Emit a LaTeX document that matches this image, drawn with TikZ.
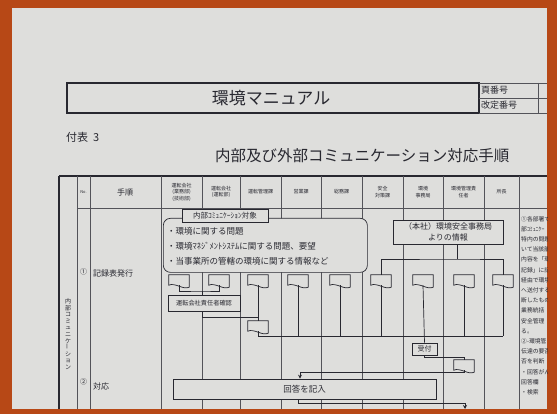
\documentclass[tikz,border=0pt]{standalone}
\usepackage{fontspec}
\setmainfont{Noto Sans CJK JP}
\usetikzlibrary{calc,arrows.meta}
\definecolor{framecol}{RGB}{183,72,22}
\definecolor{paper}{RGB}{222,222,220}
\definecolor{ink}{RGB}{40,40,48}
\newcommand{\fs}[1]{\fontsize{#1}{#1}\selectfont}
\begin{document}
\begin{tikzpicture}[x=1pt,y=-1pt,
  txt/.style={inner sep=0, text=ink},
  hdr/.style={inner sep=0, text=ink, align=center, font=\fontsize{5}{6.5}\selectfont},
  box/.style={draw=ink, fill=paper, line width=0.7pt, inner sep=0, text=ink},
  conn/.style={draw=ink, line width=0.7pt},
  gridline/.style={draw=ink!80, line width=0.5pt},
  thickline/.style={draw=ink, line width=1.1pt},
  docbox/.style={minimum width=20pt, minimum height=10pt, inner sep=0},
  arr/.style={-{Stealth[length=4pt,width=4pt]}}
]
\useasboundingbox (0,0) rectangle (557,414);
\fill[framecol] (0,0) rectangle (557,414);
\fill[paper] (12,8) rectangle (547,409);

% title block
\draw[thickline] (67,83) rectangle (479,113);
\draw[gridline] (479,83) -- (547,83) (479,98) -- (547,98) (479,113) -- (547,113) (538,83) -- (538,113);
\node[txt, font=\fs{17}] (title) at (271,98) {環境マニュアル};
\node[txt, anchor=west, font=\fs{9}] (pageno) at (481,90.5) {頁番号};
\node[txt, anchor=west, font=\fs{9}] (revno) at (481,105.5) {改定番号};

\node[txt, anchor=west, font=\fs{11}] (appx) at (66,137) {付表\ \ 3};
\node[txt, anchor=west, font=\fs{15.5}] (subtitle) at (215,156) {内部及び外部コミュニケーション対応手順};

% table grid
\draw[thickline] (59,176) -- (547,176);
\draw[thickline] (59,176) -- (59,409);
\draw[gridline] (77,208) -- (547,208);
\foreach \cx in {77,90,161,202,240,281,321,362,403,443,484,519}
  \draw[gridline] (\cx,176) -- (\cx,409);

% header labels
\node[hdr, font=\fs{4}] (hno) at (83.5,192) {No.};
\node[txt, font=\fs{8}] (hstep) at (125,192) {手順};
\node[hdr] (hc1) at (181.5,192) {運転会社\\(業務部)\\(技術部)};
\node[hdr] (hc2) at (221,192) {運転会社\\(運転部)};
\node[hdr] (hc3) at (260.5,192) {運転管理課};
\node[hdr] (hc4) at (301,192) {営業課};
\node[hdr] (hc5) at (341.5,192) {総務課};
\node[hdr] (hc6) at (382.5,192) {安全\\対策課};
\node[hdr] (hc7) at (423,192) {環境\\事務局};
\node[hdr] (hc8) at (463.5,192) {環境管理責\\任者};
\node[hdr] (hc9) at (501.5,192) {所長};

% row labels
\node[txt, font=\fs{7}] (n1) at (83.5,272) {①};
\node[txt, anchor=west, font=\fs{8}] (r1) at (93,273) {記録表発行};
\node[txt, font=\fs{7}] (n2) at (83.5,382) {②};
\node[txt, anchor=west, font=\fs{8}] (r2) at (93,386) {対応};
\node[txt, align=center, font=\fontsize{6}{6.6}\selectfont] (sec) at (68,334)
  {内\\部\\コ\\ミ\\ュ\\ニ\\ケ\\\rotatebox{90}{ー}\\シ\\ョ\\ン};

% notes column
\begin{scope}
\clip (520,209) rectangle (547,409);
\node[txt, anchor=north west, align=left, font=\fontsize{5.8}{10.2}\selectfont] (notes) at (521,216)
  {①各部署で\\部ｺﾐｭﾆｹｰ\\特内の問題\\いて当該部\\内容を「環\\記録」に記\\経由で環境\\へ送付する\\断したもの\\業務統括\\安全管理\\る。\\②-環境管\\伝達の要否\\否を判断\\・回答がん\\回答欄\\・検索};
\end{scope}

% subject box
\node[box, rounded corners=7pt, minimum width=204pt, minimum height=54pt, anchor=north west] (subj) at (163,218) {};
\node[txt, anchor=west, font=\fs{8.5}] (s1) at (167,231) {・環境に関する問題};
\node[txt, anchor=west, font=\fs{8.5}] (s2) at (167,246) {・環境ﾏﾈｼﾞﾒﾝﾄｼｽﾃﾑに関する問題、要望};
\node[txt, anchor=west, font=\fs{8.5}] (s3) at (167,261) {・当事業所の管轄の環境に関する情報など};
\node[box, minimum width=86pt, minimum height=13pt, font=\fs{7.5}] (subjlbl) at (225,215.5) {内部ｺﾐｭﾆｹｰｼｮﾝ対象};

% head office box
\node[box, minimum width=110pt, minimum height=24pt, align=center, font=\fontsize{8}{11}\selectfont] (hq) at (448,232) {（本社）環境安全事務局\\よりの情報};

% document shapes
\foreach \nm/\px/\py in {d1/179/280, d2/219/280, d3/258/280, d4/298/280, d5/340/280, d6/381/280, d7/423/280, d8/464/280, d9/503/280, d3b/258/326, d8b/464/365}
  \node[docbox] (\nm) at (\px,\py) {};
\foreach \nm in {d1,d2,d3,d4,d5,d6,d7,d8,d9,d3b,d8b}
  \draw[conn, fill=paper] (\nm.north west) -- (\nm.north east) -- ([yshift=-2pt]\nm.south east)
     .. controls +(-6pt,-3pt) and +(6pt,3pt) .. (\nm.south west) -- cycle;

% confirmation box
\node[box, minimum width=72pt, minimum height=16pt, font=\fs{6.2}] (conf) at (204,303) {運転会社責任者確認};
% reception box
\node[box, minimum width=25pt, minimum height=12pt, font=\fs{7}] (uk) at (424.5,349) {受付};
% answer box
\node[box, minimum width=263pt, minimum height=20pt, font=\fs{8.5}] (ans) at (304.5,389) {回答を記入};

% connectors
\coordinate (jt) at (457,259);
\draw[conn] (hq.south -| jt) -- (jt);
\draw[conn] (d6.north) |- (jt) -| (d9.north);

\coordinate (j1) at (202,291);
\draw[conn] (d1.south) |- (j1) -| (d2.south);
\draw[conn] (j1) -- (j1 |- conf.north);

\coordinate (j2) at (202,317);
\draw[conn] (conf.south -| j2) -- (j2) -- (j2 -| d3b.north);
\draw[conn] (d3.south) -- (d3b.north);

\coordinate (j3) at (503,336);
\draw[conn] (d3b.south) |- (j3);
\foreach \nm in {d4,d5,d6,d8,d9}
  \draw[conn] (\nm.south) -- (\nm.south |- j3);
\draw[conn] (d7.south) -- (uk.north);

\coordinate (j4) at (464,357);
\draw[conn] (uk.south) |- (j4) -- (d8b.north);

\coordinate (j5) at (300,372);
\draw[conn, arr] (d8b.south) |- (j5) -- (j5 |- ans.north);

\coordinate (j6) at (298,403);
\coordinate (endp) at (465,409);
\draw[conn, arr] (ans.south -| j6) -- (j6) -| (endp);
\end{tikzpicture}
\end{document}
